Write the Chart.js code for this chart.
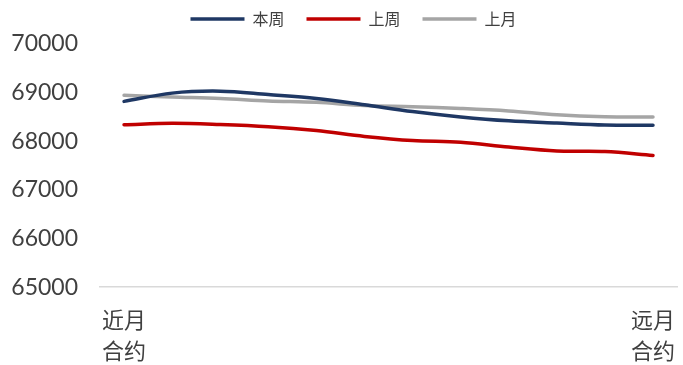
<!DOCTYPE html>
<html>
<head>
<meta charset="utf-8">
<script src="https://cdn.jsdelivr.net/npm/chart.js@4"></script>
<style>
  html, body { margin: 0; padding: 0; background: #fff; }
  #wrap { width: 683px; height: 365px; }
</style>
</head>
<body>
<div id="wrap"><canvas id="myChart"></canvas></div>
<script>
// contract labels: only the first and last are shown
var contracts = [['近月', '合约'], '', '', '', '', '', '', '', '', '', '', ['远月', '合约']];

var thisWeek = [68820, 68990, 69030, 68960, 68880, 68750, 68610, 68500, 68420, 68375, 68335, 68330];
var lastWeek = [68340, 68370, 68345, 68300, 68220, 68100, 68015, 67980, 67880, 67800, 67790, 67710];
var lastMonth = [68945, 68910, 68880, 68830, 68800, 68735, 68710, 68675, 68625, 68545, 68505, 68500];

var seriesNames = ['本周', '上周', '上月'];
var yTicks = [65000, 66000, 67000, 68000, 69000, 70000];

function line(name, data, color) {
    return {
        label: name,
        data: data,
        borderColor: color,
        backgroundColor: color,
        borderWidth: 3.5,
        borderCapStyle: 'round',
        pointRadius: 0,
        tension: 0.35,
        fill: false
    };
}

// a bit more room under the legend, and the legend sits a little right of centre
var legendSpace = {
    id: 'legendSpace',
    beforeInit: function (chart) {
        var fit = chart.legend.fit;
        chart.legend.fit = function () {
            fit.bind(chart.legend)();
            this.height += 7;
        };
    },
    afterLayout: function (chart) {
        chart.legend.left += 12;
        chart.legend.right += 12;
    }
};

var ctx = document.getElementById('myChart').getContext('2d');
var myChart = new Chart(ctx, {
    type: 'line',
    data: {
        labels: contracts,
        datasets: [
            line(seriesNames[0], thisWeek, '#1F3864'),
            line(seriesNames[1], lastWeek, '#C00000'),
            line(seriesNames[2], lastMonth, '#A5A5A5')
        ]
    },
    plugins: [legendSpace],
    options: {
        responsive: true,
        maintainAspectRatio: false,
        animation: false,
        layout: { padding: { left: 0, right: 0, top: -11, bottom: -10 } },
        plugins: {
            tooltip: { enabled: false },
            legend: {
                position: 'top',
                labels: {
                    usePointStyle: true,
                    pointStyle: 'line',
                    pointStyleWidth: 54,
                    boxHeight: 16,
                    padding: 22,
                    color: '#404040',
                    font: { family: 'Noto Sans CJK SC', size: 16 }
                }
            }
        },
        scales: {
            x: {
                offset: true,
                grid: { display: false },
                border: { display: true, color: '#D9D9D9', width: 1.5 },
                ticks: {
                    autoSkip: false,
                    maxRotation: 0,
                    padding: 8,
                    color: '#404040',
                    font: { family: 'Noto Sans CJK SC', size: 22, lineHeight: 1.45 }
                }
            },
            y: {
                min: 65000,
                max: 70000,
                afterBuildTicks: function (axis) {
                    axis.ticks = yTicks.map(function (v) { return { value: v }; });
                },
                afterFit: function (axis) {
                    axis.width = 100;
                },
                grid: { display: false },
                border: { display: false },
                ticks: {
                    padding: 14,
                    color: '#404040',
                    font: { family: 'Lato', size: 23 },
                    callback: function (v) { return String(v); }
                }
            }
        }
    }
});
</script>
</body>
</html>
